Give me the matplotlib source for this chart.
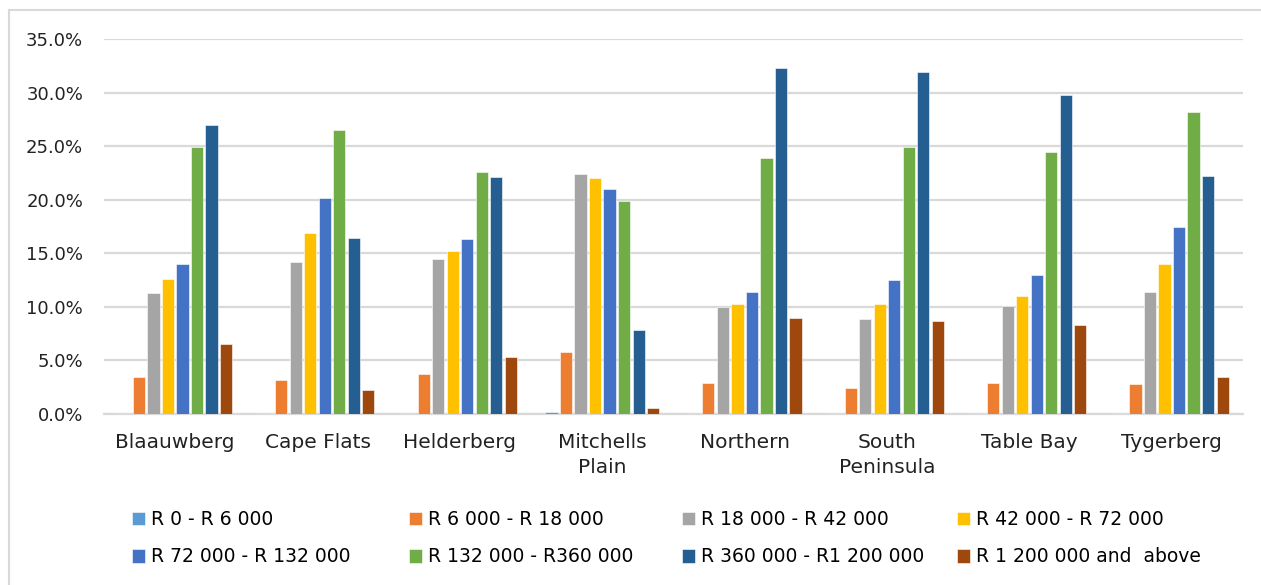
import numpy as np
import matplotlib.pyplot as plt
from matplotlib.lines import Line2D

# Share of households per income band, by planning district (%)
districts = ["Blaauwberg", "Cape Flats", "Helderberg", "Mitchells\nPlain",
             "Northern", "South\nPeninsula", "Table Bay", "Tygerberg"]
bands = ["R 0 - R 6 000", "R 6 000 - R 18 000", "R 18 000 - R 42 000",
         "R 42 000 - R 72 000", "R 72 000 - R 132 000", "R 132 000 - R360 000",
         "R 360 000 - R1 200 000", "R 1 200 000 and  above"]

r0_6k = [0.1, 0.1, 0.1, 0.2, 0.1, 0.1, 0.1, 0.1]
r6k_18k = [3.5, 3.2, 3.7, 5.8, 2.9, 2.4, 2.9, 2.8]
r18k_42k = [11.3, 14.2, 14.5, 22.4, 10.0, 8.9, 10.1, 11.4]
r42k_72k = [12.6, 16.9, 15.2, 22.0, 10.3, 10.3, 11.0, 14.0]
r72k_132k = [14.0, 20.2, 16.3, 21.0, 11.4, 12.5, 13.0, 17.5]
r132k_360k = [24.9, 26.5, 22.6, 19.9, 23.9, 24.9, 24.5, 28.2]
r360k_1200k = [27.0, 16.4, 22.1, 7.8, 32.3, 31.9, 29.8, 22.2]
r1200k_up = [6.5, 2.2, 5.3, 0.6, 9.0, 8.7, 8.3, 3.5]

series = [r0_6k, r6k_18k, r18k_42k, r42k_72k,
          r72k_132k, r132k_360k, r360k_1200k, r1200k_up]
colors = ["#5B9BD5", "#ED7D31", "#A5A5A5", "#FFC000",
          "#4472C4", "#70AD47", "#255E91", "#9E480E"]

plt.rcParams["font.family"] = ["DejaVu Sans"]

W, H = 1261, 585
fig = plt.figure(figsize=(W / 100, H / 100), dpi=100)
ax = fig.add_axes([104 / W, 1 - 414 / H, (1243 - 104) / W, (414 - 39) / H])

x = np.arange(len(districts))
slot = 0.102
handles = []
for i, (vals, c) in enumerate(zip(series, colors)):
    offs = (i - 3.5) * slot
    b = ax.bar(x + offs, vals, width=slot * 0.84, color=c, zorder=3,
               edgecolor="white", linewidth=0.4)
    handles.append(b)

ax.set_xlim(-0.5, len(districts) - 0.5)
ax.set_ylim(0, 35)
ticks = np.arange(0, 35.1, 5)
ax.set_yticks(ticks)
ax.set_yticklabels([f"{v:.1f}%" for v in ticks])
ax.set_xticks(x)
ax.set_xticklabels(districts, linespacing=1.35)
ax.tick_params(axis="both", length=0, colors="#222222")
ax.tick_params(axis="y", pad=15, labelsize=13)
ax.tick_params(axis="x", pad=14, labelsize=14.5)
ax.grid(axis="y", color="#D9D9D9", linewidth=1.6, zorder=0)
for s in ["top", "right", "left"]:
    ax.spines[s].set_visible(False)
ax.spines["bottom"].set_color("#D9D9D9")
ax.spines["bottom"].set_linewidth(1.6)

# Legend: four columns of two entries each
col_x = [132, 409, 682, 957]
for k, cx in enumerate(col_x):
    hs = [handles[k], handles[k + 4]]
    ls = [bands[k], bands[k + 4]]
    fig.legend(hs, ls, loc="upper left",
               bbox_to_anchor=(cx / W, 1 - 510 / H), frameon=False,
               fontsize=13.5, handlelength=0.7, handleheight=0.75,
               handletextpad=0.3, labelspacing=0.98, borderpad=0,
               borderaxespad=0)

# Chart area frame (left and top edges)
frame = "#D9D9D9"
fig.add_artist(Line2D([9 / W, 9 / W], [0, 1 - 9.5 / H], transform=fig.transFigure,
                      color=frame, linewidth=1.5))
fig.add_artist(Line2D([9 / W, 1], [1 - 9.5 / H, 1 - 9.5 / H],
                      transform=fig.transFigure, color=frame, linewidth=1.5))

fig.savefig("out.png", dpi=100)
